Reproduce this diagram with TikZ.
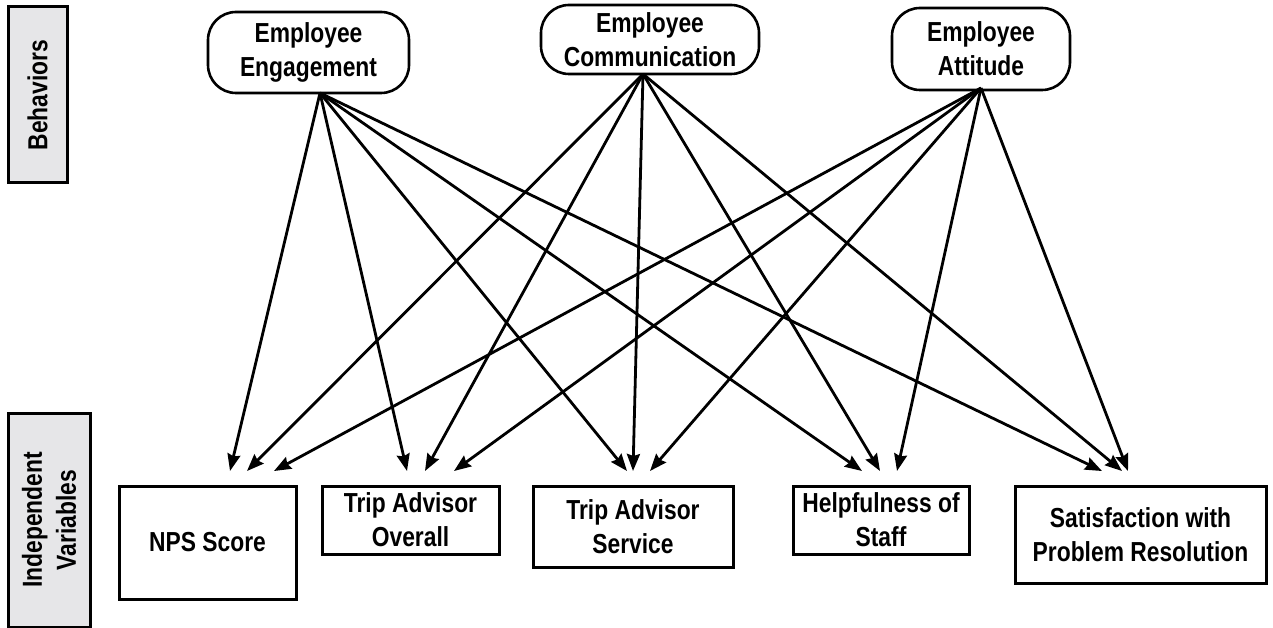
\documentclass[tikz,border=0pt]{standalone}
\usepackage{fontspec}
\setmainfont{Liberation Sans}[FakeStretch=0.83]
\usepackage{tikz}
\usetikzlibrary{positioning,arrows.meta}

\definecolor{labelgray}{RGB}{230,230,232}

\tikzset{
  every node/.style={font=\bfseries\fontsize{27.5}{34}\selectfont, align=center, inner sep=0pt},
  behavior/.style={draw, line width=2.6pt, rounded corners=28pt},
  varbox/.style={draw, line width=3pt},
  sidelabel/.style={draw, line width=3pt, fill=labelgray, rotate=90},
  link/.style={-{Stealth[length=17pt,width=13pt,inset=2pt]}, line width=2.8pt},
}

\begin{document}
\begin{tikzpicture}[x=1pt, y=-1pt]
  \useasboundingbox (0,0) rectangle (1273,628);

  % side labels
  \node[sidelabel, minimum width=176pt, minimum height=59pt] (beh) at (37.5,95) {Behaviors};
  \node[sidelabel, minimum width=214pt, minimum height=82pt] (indep) at (49,520) {Independent\\Variables};

  % behaviors
  \node[behavior, minimum width=201pt, minimum height=81pt] (eng) at (308.5,52.5) {Employee\\Engagement};
  \node[behavior, minimum width=218pt, minimum height=69pt] (comm) at (650,39.5) {Employee\\Communication};
  \node[behavior, minimum width=178pt, minimum height=82pt] (att) at (981,49) {Employee\\Attitude};

  % variables
  \node[varbox, minimum width=177pt, minimum height=113pt] (nps) at (207.5,542.5) {NPS Score};
  \node[varbox, minimum width=177pt, minimum height=68pt] (tao) at (410.5,520) {Trip Advisor\\Overall};
  \node[varbox, minimum width=200pt, minimum height=81pt] (tas) at (633,526.5) {Trip Advisor\\Service};
  \node[varbox, minimum width=176pt, minimum height=68pt] (help) at (881,520) {Helpfulness of\\Staff};
  \node[varbox, minimum width=251pt, minimum height=97pt] (sat) at (1140.5,534.5) {Satisfaction with\\Problem Resolution};

  % arrow ends
  \coordinate (eng-o) at (320,93);
  \coordinate (comm-o) at (643,74);
  \coordinate (att-o) at (981,88);

  \coordinate (nps-1) at (230,471);
  \coordinate (nps-2) at (247,471);
  \coordinate (nps-3) at (274,471);
  \coordinate (tao-1) at (407,471);
  \coordinate (tao-2) at (425,471);
  \coordinate (tao-3) at (454,471);
  \coordinate (tas-1) at (627,471);
  \coordinate (tas-2) at (633,471);
  \coordinate (tas-3) at (650,471);
  \coordinate (help-1) at (862,471);
  \coordinate (help-2) at (880,471);
  \coordinate (help-3) at (897,471);
  \coordinate (sat-1) at (1102,471);
  \coordinate (sat-2) at (1122,471);
  \coordinate (sat-3) at (1128,471);

  \path (eng-o) edge [link] (nps-1);
  \path (eng-o) edge [link] (tao-1);
  \path (eng-o) edge [link] (tas-1);
  \path (eng-o) edge [link] (help-1);
  \path (eng-o) edge [link] (sat-1);

  \path (comm-o) edge [link] (nps-2);
  \path (comm-o) edge [link] (tao-2);
  \path (comm-o) edge [link] (tas-2);
  \path (comm-o) edge [link] (help-2);
  \path (comm-o) edge [link] (sat-2);

  \path (att-o) edge [link] (nps-3);
  \path (att-o) edge [link] (tao-3);
  \path (att-o) edge [link] (tas-3);
  \path (att-o) edge [link] (help-3);
  \path (att-o) edge [link] (sat-3);
\end{tikzpicture}
\end{document}
